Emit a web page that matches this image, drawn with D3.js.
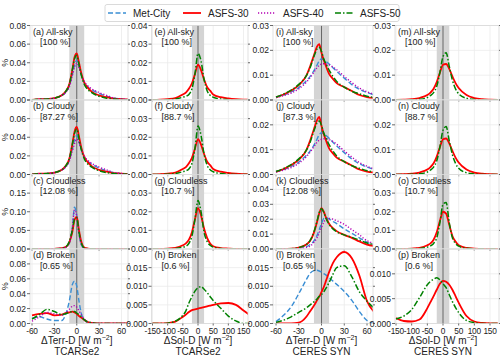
<!DOCTYPE html>
<html>
<head>
<meta charset="utf-8">
<script src="https://cdn.jsdelivr.net/npm/d3@7"></script>
<style>
  html, body { margin: 0; padding: 0; background: #fff; }
  svg { display: block; font-family: "Liberation Sans", Arial, sans-serif; }
</style>
</head>
<body>
<div id="chart"></div>
<script>
// x grids (W m-2)
const xTerr = [-60, -50, -40, -30, -20, -15, -10, -6, -3, 0, 3, 6, 10, 15, 20, 30, 40, 50, 60, 70];
const xSol = [-150, -125, -100, -75, -50, -40, -30, -20, -10, 0, 10, 20, 30, 40, 50, 75, 100, 125, 150, 175];

const seriesNames = ["Met-City", "ASFS-30", "ASFS-40", "ASFS-50"];
const panelTitles = [
  ["(a) All-sky", "[100 %]"], ["(b) Cloudy", "[87.27 %]"], ["(c) Cloudless", "[12.08 %]"], ["(d) Broken", "[0.65 %]"],
  ["(e) All-sky", "[100 %]"], ["(f) Cloudy", "[88.7 %]"], ["(g) Cloudless", "[10.7 %]"], ["(h) Broken", "[0.6 %]"],
  ["(i) All-sky", "[100 %]"], ["(j) Cloudy", "[87.3 %]"], ["(k) Cloudless", "[12.08 %]"], ["(l) Broken", "[0.65 %]"],
  ["(m) All-sky", "[100 %]"], ["(n) Cloudy", "[88.7 %]"], ["(o) Cloudless", "[10.7 %]"], ["(p) Broken", "[0.6 %]"]
];
const xLabels = [["ΔTerr-D", "TCARSe2"], ["ΔSol-D", "TCARSe2"], ["ΔTerr-D", "CERES SYN"], ["ΔSol-D", "CERES SYN"]];
const xTicks = [[-60, -30, 0, 30, 60], [-150, -100, -50, 0, 50, 100, 150]];
const xDomains = [[-62.7, 68.7], [-153.3, 164.8], [-64, 67.9], [-153.2, 178.7]];
const yMax = [[0.08, 0.08, 0.2, 0.1], [0.04, 0.04, 0.04, 0.02], [0.03, 0.03, 0.05, 0.02], [0.03, 0.03, 0.04, 0.015]];
const yStep = [[0.02, 0.02, 0.05, 0.02], [0.01, 0.01, 0.01, 0.005], [0.01, 0.01, 0.01, 0.005], [0.01, 0.01, 0.01, 0.005]];

// column 1: TCARSe2 terrestrial
const aMet = [0, 0.0008, 0.001, 0.002, 0.005, 0.008, 0.015, 0.027, 0.037, 0.043, 0.036, 0.027, 0.019, 0.014, 0.011, 0.007, 0.004, 0.002, 0.001, 0.0005];
const a30 = [0, 0.0008, 0.001, 0.002, 0.005, 0.009, 0.017, 0.032, 0.046, 0.050, 0.040, 0.029, 0.019, 0.013, 0.009, 0.005, 0.003, 0.0015, 0.001, 0.0005];
const a40 = [0, 0.0008, 0.001, 0.002, 0.005, 0.008, 0.014, 0.026, 0.035, 0.040, 0.035, 0.027, 0.020, 0.015, 0.012, 0.008, 0.005, 0.002, 0.001, 0.0005];
const a50 = [0, 0.0008, 0.001, 0.002, 0.005, 0.009, 0.017, 0.032, 0.044, 0.048, 0.038, 0.027, 0.017, 0.011, 0.008, 0.004, 0.002, 0.001, 0.0005, 0.0003];
const bMet = [0, 0.0008, 0.001, 0.002, 0.005, 0.008, 0.015, 0.027, 0.037, 0.042, 0.035, 0.027, 0.019, 0.014, 0.011, 0.007, 0.004, 0.002, 0.001, 0.0005];
const b30 = [0, 0.0008, 0.001, 0.002, 0.005, 0.009, 0.017, 0.032, 0.046, 0.051, 0.041, 0.029, 0.019, 0.013, 0.009, 0.005, 0.003, 0.0015, 0.001, 0.0005];
const b40 = [0, 0.0008, 0.001, 0.002, 0.005, 0.008, 0.014, 0.025, 0.033, 0.038, 0.034, 0.027, 0.020, 0.015, 0.012, 0.008, 0.005, 0.002, 0.001, 0.0005];
const b50 = [0, 0.0008, 0.001, 0.002, 0.005, 0.009, 0.017, 0.032, 0.044, 0.049, 0.038, 0.027, 0.017, 0.011, 0.008, 0.004, 0.002, 0.001, 0.0005, 0.0003];
const cMet = [0, 0, 0, 0.0005, 0.002, 0.004, 0.015, 0.055, 0.112, 0.09, 0.04, 0.012, 0.002, 0, 0, 0, 0, 0, 0, 0];
const c30 = [0, 0, 0, 0.0005, 0.002, 0.005, 0.018, 0.045, 0.078, 0.086, 0.05, 0.02, 0.004, 0.001, 0, 0, 0, 0, 0, 0];
const c40 = [0, 0, 0, 0.0005, 0.002, 0.004, 0.016, 0.055, 0.105, 0.088, 0.04, 0.012, 0.002, 0, 0, 0, 0, 0, 0, 0];
const c50 = [0, 0, 0, 0.0005, 0.002, 0.005, 0.02, 0.05, 0.08, 0.084, 0.045, 0.016, 0.003, 0.0005, 0, 0, 0, 0, 0, 0];
const dMet = [0.007, 0.009, 0.006, 0.004, 0.004, 0.012, 0.03, 0.052, 0.057, 0.05, 0.03, 0.014, 0.005, 0.001, 0, 0, 0, 0, 0, 0];
const d30 = [0.011, 0.013, 0.014, 0.011, 0.012, 0.014, 0.015, 0.016, 0.015, 0.013, 0.010, 0.008, 0.005, 0.002, 0.0008, 0.0002, 0, 0, 0, 0];
const d40 = [0.003, 0.009, 0.015, 0.013, 0.011, 0.014, 0.019, 0.023, 0.024, 0.022, 0.017, 0.012, 0.006, 0.002, 0.001, 0, 0, 0, 0, 0];
const d50 = [0.006, 0.012, 0.019, 0.016, 0.012, 0.013, 0.015, 0.016, 0.016, 0.014, 0.012, 0.009, 0.005, 0.002, 0.001, 0, 0, 0, 0, 0];

// column 2: TCARSe2 solar
const e30 = [0, 0.0002, 0.0005, 0.001, 0.003, 0.004, 0.006, 0.009, 0.014, 0.019, 0.016, 0.011, 0.007, 0.005, 0.003, 0.0015, 0.0008, 0.0004, 0.0002, 0.0001];
const e50 = [0, 0, 0.0002, 0.0005, 0.0015, 0.002, 0.003, 0.006, 0.014, 0.025, 0.021, 0.011, 0.005, 0.0025, 0.0015, 0.0005, 0.0002, 0, 0, 0];
const f30 = [0, 0.0002, 0.0005, 0.001, 0.003, 0.004, 0.006, 0.009, 0.014, 0.019, 0.016, 0.011, 0.007, 0.005, 0.003, 0.0015, 0.0008, 0.0004, 0.0002, 0.0001];
const f50 = [0, 0, 0.0002, 0.0005, 0.0015, 0.002, 0.003, 0.006, 0.014, 0.026, 0.021, 0.011, 0.005, 0.0025, 0.0015, 0.0005, 0.0002, 0, 0, 0];
const g30 = [0, 0, 0.0002, 0.0006, 0.002, 0.003, 0.005, 0.009, 0.016, 0.022, 0.018, 0.011, 0.006, 0.003, 0.0015, 0.0005, 0.0002, 0, 0, 0];
const g50 = [0, 0, 0.0001, 0.0003, 0.001, 0.0015, 0.003, 0.007, 0.016, 0.026, 0.02, 0.009, 0.004, 0.002, 0.001, 0.0003, 0.0001, 0, 0, 0];
const h30 = [0, 0, 0.0001, 0.0005, 0.0018, 0.0024, 0.0031, 0.0036, 0.0038, 0.004, 0.0042, 0.0044, 0.0046, 0.0048, 0.005, 0.0054, 0.0055, 0.005, 0.0035, 0.002];
const h50 = [0, 0, 0.0001, 0.0006, 0.0022, 0.0034, 0.0055, 0.0072, 0.0087, 0.0096, 0.0099, 0.0092, 0.0083, 0.0072, 0.0062, 0.0041, 0.002, 0.0007, 0, 0];

// column 3: CERES SYN terrestrial
const iMet = [0.0012, 0.002, 0.0033, 0.005, 0.0078, 0.0095, 0.0118, 0.014, 0.0158, 0.0165, 0.0162, 0.0155, 0.0145, 0.013, 0.0115, 0.0088, 0.0062, 0.0043, 0.003, 0.002];
const i30 = [0.0011, 0.0022, 0.0038, 0.006, 0.0098, 0.0136, 0.018, 0.0215, 0.0225, 0.019, 0.016, 0.0135, 0.0105, 0.0085, 0.0068, 0.0052, 0.0036, 0.002, 0.0012, 0.0008];
const i40 = [0.001, 0.0018, 0.0028, 0.0045, 0.0072, 0.009, 0.0112, 0.013, 0.014, 0.0145, 0.0146, 0.0145, 0.0142, 0.0133, 0.0122, 0.0095, 0.007, 0.0048, 0.0033, 0.0022];
const i50 = [0.0012, 0.0024, 0.004, 0.0063, 0.0098, 0.013, 0.0175, 0.0205, 0.0212, 0.0195, 0.0165, 0.0145, 0.012, 0.0095, 0.0075, 0.0052, 0.0035, 0.0025, 0.0015, 0.001];
const jMet = [0.0012, 0.002, 0.0033, 0.005, 0.0078, 0.0095, 0.0118, 0.0142, 0.016, 0.0168, 0.0164, 0.0157, 0.0146, 0.013, 0.0115, 0.0088, 0.0062, 0.0043, 0.003, 0.002];
const j30 = [0.0011, 0.0022, 0.0038, 0.006, 0.0098, 0.0137, 0.0182, 0.0218, 0.0232, 0.0195, 0.0162, 0.0136, 0.0105, 0.0085, 0.0068, 0.0052, 0.0036, 0.002, 0.0012, 0.0008];
const j40 = [0.001, 0.0018, 0.0028, 0.0045, 0.0072, 0.009, 0.0112, 0.013, 0.0138, 0.0142, 0.0144, 0.0144, 0.0141, 0.0133, 0.0122, 0.0095, 0.007, 0.0048, 0.0033, 0.0022];
const j50 = [0.0012, 0.0024, 0.004, 0.0063, 0.0098, 0.013, 0.0176, 0.0207, 0.0215, 0.0198, 0.0167, 0.0146, 0.012, 0.0095, 0.0075, 0.0052, 0.0035, 0.0025, 0.0015, 0.001];
const kMet = [0, 0, 0.0001, 0.0005, 0.0015, 0.003, 0.0055, 0.009, 0.013, 0.017, 0.0205, 0.021, 0.02, 0.0185, 0.017, 0.0135, 0.0105, 0.0075, 0.0045, 0.003];
const k30 = [0, 0, 0.0002, 0.001, 0.003, 0.0055, 0.011, 0.018, 0.024, 0.0275, 0.025, 0.021, 0.017, 0.014, 0.012, 0.0095, 0.0075, 0.005, 0.003, 0.002];
const k40 = [0, 0, 0, 0.0003, 0.001, 0.002, 0.0045, 0.0075, 0.011, 0.0145, 0.018, 0.02, 0.0205, 0.02, 0.019, 0.0165, 0.013, 0.0095, 0.0055, 0.004];
const k50 = [0, 0, 0.0002, 0.001, 0.003, 0.0058, 0.0115, 0.0185, 0.0245, 0.027, 0.0245, 0.0205, 0.0165, 0.0135, 0.0115, 0.0095, 0.0078, 0.006, 0.004, 0.003];
const lMet = [0.0005, 0.0022, 0.0045, 0.008, 0.0118, 0.0135, 0.0142, 0.0143, 0.0141, 0.0138, 0.0134, 0.013, 0.0123, 0.0114, 0.0105, 0.0086, 0.0062, 0.0032, 0.0008, 0];
const l30 = [0, 0, 0, 0.0002, 0.0018, 0.0033, 0.0048, 0.0062, 0.0072, 0.0085, 0.0098, 0.0115, 0.0138, 0.0162, 0.0178, 0.0192, 0.0175, 0.0128, 0.006, 0.003];
const l50 = [0.0003, 0.0009, 0.0018, 0.003, 0.0042, 0.005, 0.0058, 0.0066, 0.0073, 0.0078, 0.0085, 0.0095, 0.011, 0.0132, 0.015, 0.0155, 0.0125, 0.0085, 0.006, 0.004];

// column 4: CERES SYN solar
const m30 = [0, 0.0001, 0.0003, 0.0008, 0.002, 0.003, 0.0045, 0.0072, 0.011, 0.0142, 0.0145, 0.0125, 0.0095, 0.0068, 0.0048, 0.002, 0.0008, 0.0003, 0.0001, 0];
const m50 = [0, 0, 0.0001, 0.0003, 0.001, 0.0018, 0.003, 0.0055, 0.011, 0.0175, 0.019, 0.0135, 0.008, 0.0045, 0.0025, 0.0007, 0.0002, 0, 0, 0];
const n30 = [0, 0.0001, 0.0003, 0.0008, 0.002, 0.003, 0.0045, 0.0072, 0.011, 0.0142, 0.0145, 0.0125, 0.0095, 0.0068, 0.0048, 0.002, 0.0008, 0.0003, 0.0001, 0];
const n50 = [0, 0, 0.0001, 0.0003, 0.001, 0.0018, 0.003, 0.0055, 0.011, 0.0178, 0.0193, 0.0135, 0.008, 0.0045, 0.0025, 0.0007, 0.0002, 0, 0, 0];
const o30 = [0, 0, 0.0002, 0.0006, 0.002, 0.003, 0.005, 0.009, 0.015, 0.02, 0.019, 0.013, 0.007, 0.004, 0.002, 0.0006, 0.0002, 0, 0, 0];
const o50 = [0, 0, 0.0001, 0.0003, 0.001, 0.0017, 0.003, 0.006, 0.014, 0.024, 0.025, 0.014, 0.006, 0.003, 0.0015, 0.0004, 0.0001, 0, 0, 0];
const p30 = [0.0011, 0.0005, 0.0004, 0.0008, 0.0031, 0.0043, 0.0055, 0.0068, 0.008, 0.0086, 0.0084, 0.0078, 0.0068, 0.0055, 0.0042, 0.0015, 0.0004, 0.0001, 0, 0];
const p50 = [0.0009, 0.0015, 0.0028, 0.0052, 0.0078, 0.0085, 0.0089, 0.0092, 0.0088, 0.008, 0.0072, 0.0058, 0.0044, 0.0032, 0.0022, 0.0006, 0.0002, 0, 0, 0];

const panelData = [
  [[aMet, a30, a40, a50], [bMet, b30, b40, b50], [cMet, c30, c40, c50], [dMet, d30, d40, d50]],
  [[null, e30, null, e50], [null, f30, null, f50], [null, g30, null, g50], [null, h30, null, h50]],
  [[iMet, i30, i40, i50], [jMet, j30, j40, j50], [kMet, k30, k40, k50], [lMet, l30, null, l50]],
  [[null, m30, null, m50], [null, n30, null, n50], [null, o30, null, o50], [null, p30, null, p50]]
];

const colors = ["#3a8ed4", "#ff0000", "#b400b4", "#008000"];
const dashArr = ["5,2.5", null, "1.2,1.8", "6,2,1.5,2"];
const widths = [1.4, 1.8, 1.4, 1.5];

const W = 500, H = 356;
const colLeft = [30, 151.5, 273, 395];
const colRight = [128, 248, 373, 499];
const rowTop = [25.5, 100, 174.5, 249];
const plotH = 74.5;

const svg = d3.select("#chart").append("svg").attr("width", W).attr("height", H);

for (let c = 0; c < 4; c++) {
  const isTerr = c % 2 === 0;
  const xs = isTerr ? xTerr : xSol;
  const plotW = colRight[c] - colLeft[c];
  const x = d3.scaleLinear().domain(xDomains[c]).range([0, plotW]);
  const xt = xTicks[isTerr ? 0 : 1];
  const band = isTerr ? 10 : 20;

  for (let r = 0; r < 4; r++) {
    const g = svg.append("g").attr("transform", `translate(${colLeft[c]},${rowTop[r]})`);
    const y = d3.scaleLinear().domain([0, yMax[c][r]]).range([plotH, 0]);
    const yt = d3.range(0, yMax[c][r] + 1e-9, yStep[c][r]);

    g.append("defs").append("clipPath").attr("id", `clip${c}${r}`)
      .append("rect").attr("width", plotW).attr("height", plotH);

    // grid
    g.selectAll(".gx").data(xt).join("line")
      .attr("x1", d => x(d)).attr("x2", d => x(d)).attr("y1", 0).attr("y2", plotH)
      .attr("stroke", "#ebebeb").attr("stroke-width", 0.8);
    g.selectAll(".gy").data(yt).join("line")
      .attr("x1", 0).attr("x2", plotW).attr("y1", d => y(d)).attr("y2", d => y(d))
      .attr("stroke", "#ebebeb").attr("stroke-width", 0.8);

    // +/- band and zero line
    g.append("rect").attr("x", x(-band)).attr("width", x(band) - x(-band))
      .attr("y", 0).attr("height", plotH).attr("fill", "#d4d4d4");
    g.append("line").attr("x1", x(0)).attr("x2", x(0)).attr("y1", 0).attr("y2", plotH)
      .attr("stroke", "#666").attr("stroke-width", 1);

    // curves
    const line = d3.line().x((d, i) => x(xs[i])).y(d => y(d)).curve(d3.curveMonotoneX);
    const cg = g.append("g").attr("clip-path", `url(#clip${c}${r})`);
    panelData[c][r].forEach((vals, s) => {
      if (!vals) return;
      cg.append("path").attr("d", line(vals)).attr("fill", "none")
        .attr("stroke", colors[s]).attr("stroke-width", widths[s])
        .attr("stroke-dasharray", dashArr[s]);
    });

    // frame
    g.append("rect").attr("width", plotW).attr("height", plotH)
      .attr("fill", "none").attr("stroke", "#d9d9d9").attr("stroke-width", 0.8);

    // y ticks (left) and right minor marks
    const fmt = yStep[c][r] < 0.01 ? d3.format(".3f") : d3.format(".2f");
    yt.forEach(v => {
      const yy = y(v);
      g.append("line").attr("x1", -3).attr("x2", 0).attr("y1", yy).attr("y2", yy)
        .attr("stroke", "#444").attr("stroke-width", 0.8);
      g.append("line").attr("x1", plotW).attr("x2", plotW + 2).attr("y1", yy).attr("y2", yy)
        .attr("stroke", "#444").attr("stroke-width", 0.8);
      if (r > 0 && v > yMax[c][r] - 1e-9) return;
      g.append("text").attr("x", -4).attr("y", yy + 3).attr("text-anchor", "end")
        .attr("font-size", 8.5).attr("fill", "#222").text(fmt(v));
    });

    // x ticks
    xt.forEach(v => {
      g.append("line").attr("x1", x(v)).attr("x2", x(v)).attr("y1", plotH).attr("y2", plotH + 2)
        .attr("stroke", "#444").attr("stroke-width", 0.8);
      if (r === 3) {
        g.append("text").attr("x", x(v)).attr("y", plotH + 10).attr("text-anchor", "middle")
          .attr("font-size", 8.3).attr("letter-spacing", -0.2).attr("fill", "#222").text(v);
      }
    });

    // panel title
    const t = panelTitles[c * 4 + r];
    g.append("text").attr("x", 3).attr("y", 9).attr("font-size", 9).attr("fill", "#222").text(t[0]);
    g.append("text").attr("x", 10).attr("y", 19.5).attr("font-size", 9).attr("fill", "#222").text(t[1]);

    if (c === 0) {
      g.append("text").attr("transform", `translate(-22,${plotH / 2}) rotate(-90)`)
        .attr("text-anchor", "middle").attr("font-size", 9).attr("fill", "#222").text("%");
    }
  }

  // x axis label, centred on the zero line
  const cx = colLeft[c] + d3.scaleLinear().domain(xDomains[c]).range([0, colRight[c] - colLeft[c]])(0);
  const lab = svg.append("text").attr("x", cx).attr("y", 344).attr("text-anchor", "middle")
    .attr("font-size", 10).attr("fill", "#222");
  lab.append("tspan").text(xLabels[c][0] + " [W m");
  lab.append("tspan").attr("dy", -4).attr("font-size", 7).text("−2");
  lab.append("tspan").attr("dy", 4).text("]");
  svg.append("text").attr("x", cx).attr("y", 355).attr("text-anchor", "middle")
    .attr("font-size", 10).attr("fill", "#222").text(xLabels[c][1]);
}

// legend
const legX = [108, 183, 258, 335];
const lg = svg.append("g");
lg.append("rect").attr("x", 105).attr("y", 4.5).attr("width", 294).attr("height", 17)
  .attr("rx", 2).attr("fill", "#fff").attr("stroke", "#d0d0d0").attr("stroke-width", 0.8);
seriesNames.forEach((name, i) => {
  lg.append("line").attr("x1", legX[i]).attr("x2", legX[i] + 18).attr("y1", 13).attr("y2", 13)
    .attr("stroke", colors[i]).attr("stroke-width", widths[i]).attr("stroke-dasharray", dashArr[i]);
  lg.append("text").attr("x", legX[i] + 25).attr("y", 16.5).attr("font-size", 10)
    .attr("fill", "#222").text(name);
});
</script>
</body>
</html>
